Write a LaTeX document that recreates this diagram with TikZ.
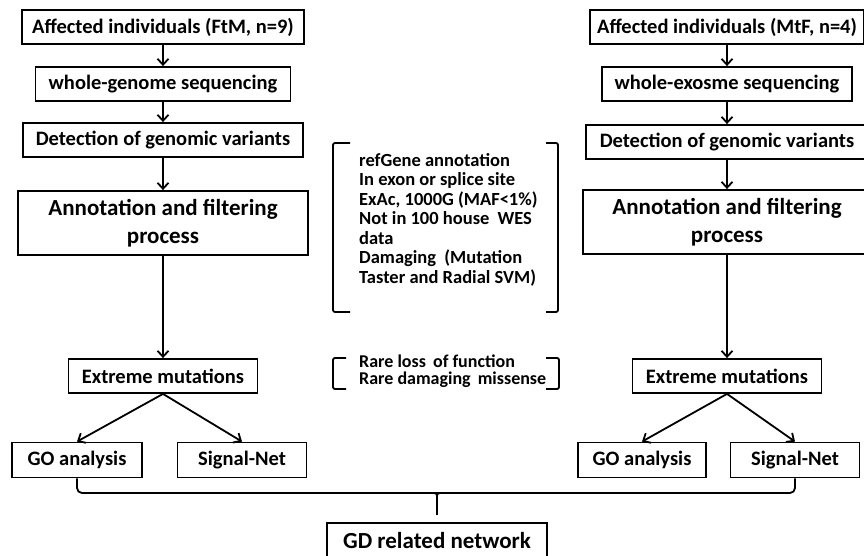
\documentclass[tikz,border=0pt]{standalone}
\usepackage{fontspec}
\setmainfont{Carlito}
\usetikzlibrary{arrows.meta}
\begin{document}
\begin{tikzpicture}[x=1pt,y=-1pt,
	box/.style={draw,line width=1.8pt,inner sep=0pt,minimum height=34,font=\fontsize{20.5}{22}\selectfont\bfseries},
	bigbox/.style={box,minimum height=64,align=center,font=\fontsize{23}{28.5}\selectfont\bfseries},
	note/.style={inner sep=0pt,anchor=north west,align=left,font=\fontsize{18.5}{19.5}\selectfont\bfseries},
	arr/.style={line width=1.8pt,-{Straight Barb[length=6pt,width=11pt]}},
	brk/.style={line width=1.8pt,rounded corners=2pt}]
	\useasboundingbox (0,0) rectangle (864,556);
	% left column (FtM)
	\node[box,minimum width=282] (A1) at (163,27) {Affected individuals (FtM, n=9)};
	\node[box,minimum width=255] (A2) at (163,84) {whole-genome sequencing};
	\node[box,minimum width=280] (A3) at (163,140) {Detection of genomic variants};
	\node[bigbox,minimum width=290] (A4) at (163,223) {Annotation and filtering\\process};
	\node[box,minimum width=189] (A5) at (163,376) {Extreme mutations};
	\node[box,minimum width=130,minimum height=35] (A6) at (77,460) {GO analysis};
	\node[box,minimum width=129,minimum height=35] (A7) at (242,460) {Signal-Net};
	% right column (MtF)
	\node[box,minimum width=274] (B1) at (727,27) {Affected individuals (MtF, n=4)};
	\node[box,minimum width=250] (B2) at (727,84) {whole-exosme sequencing};
	\node[box,minimum width=282] (B3) at (727,142) {Detection of genomic variants};
	\node[bigbox,minimum width=288] (B4) at (727,222) {Annotation and filtering\\process};
	\node[box,minimum width=189] (B5) at (727,376) {Extreme mutations};
	\node[box,minimum width=128,minimum height=35] (B6) at (642,460) {GO analysis};
	\node[box,minimum width=129,minimum height=35] (B7) at (795,460) {Signal-Net};
	% bottom
	\node[box,minimum width=220,minimum height=35,font=\fontsize{23}{25}\selectfont\bfseries] (GD) at (437,540.5) {GD related network};
	% filter notes
	\node[note] (crit) at (359,153) {refGene annotation\\In exon or splice site\\ExAc, 1000G (MAF<1\%)\\
		Not in 100 house\hspace{4pt} WES\\data\\Damaging\hspace{4pt} (Mutation\\Taster and Radial SVM)};
	\node[note,font=\fontsize{18}{16.5}\selectfont\bfseries] (rare) at (359,355) {Rare loss\hspace{3pt} of function\\Rare damaging\hspace{3pt} missense};
	\draw[brk] (350,143) -- (333,143) -- (333,312) -- (350,312)
		(546,143) -- (558,143) -- (558,312) -- (546,312);
	\draw[brk] (346,358) -- (333,358) -- (333,389) -- (346,389)
		(546,358) -- (559,358) -- (559,389) -- (546,389);
	% arrows
	\foreach \c in {A,B}{
		\draw[arr] (\c1) -- (\c2);
		\draw[arr] (\c2) -- (\c3);
		\draw[arr] (\c3) -- (\c4);
		\draw[arr] (\c4) -- (\c5);
		\draw[arr] (\c5.south) -- (\c6.north);
		\draw[arr] (\c5.south) -- (\c7.north);
	}
	\coordinate (J) at (437,493);
	\draw[line width=1.8pt,rounded corners=5pt] (A6.south) |- (J) -| (B7.south);
	\draw[line width=1.8pt] (431,493) .. controls (437,493) .. (437,499)
		.. controls (437,493) .. (443,493);
	\draw[line width=1.8pt,shorten >=7pt] (J) -- (GD.north);
\end{tikzpicture}
\end{document}
